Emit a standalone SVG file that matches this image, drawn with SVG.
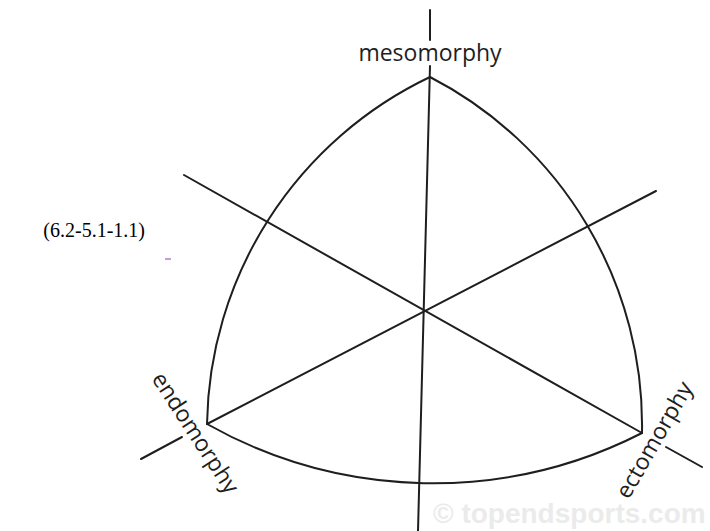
<svg xmlns="http://www.w3.org/2000/svg" width="710" height="531" viewBox="0 0 710 531">
<style>
.ln{stroke:#1e1e1e;stroke-width:2;fill:none;stroke-linecap:round}
.lbl{font-family:"Open Sans","DejaVu Sans",sans-serif;font-size:23px;fill:#1e1e1e;text-anchor:middle}
.note{font-family:"Liberation Serif","Times New Roman",serif;font-size:20px;fill:#000}
.wm{font-family:"Liberation Sans",Arial,sans-serif;font-weight:bold;font-size:28px;fill:#ebebeb}
</style>
<rect width="710" height="531" fill="#fff"/>
<g id="connectors">
<path class="ln" d="M430,77 A392,392 0 0 1 642,433 A460,460 0 0 1 207,424 A391,391 0 0 1 430,77 Z"/>
<line class="ln" x1="430" y1="10" x2="430" y2="40"/>
<line class="ln" x1="430" y1="66" x2="418" y2="531"/>
<line class="ln" x1="184" y1="175" x2="642" y2="433"/>
<line class="ln" x1="666" y1="447" x2="702" y2="467"/>
<line class="ln" x1="207" y1="424" x2="656" y2="191"/>
<line class="ln" x1="182" y1="437" x2="141" y2="459"/>
</g>
<g id="mesomorphy"><text class="lbl" x="430" y="61">mesomorphy</text></g>
<g id="endomorphy"><text class="lbl" transform="translate(189,437) rotate(57)">endomorphy</text></g>
<g id="ectomorphy"><text class="lbl" transform="translate(661,444) rotate(-60)">ectomorphy</text></g>
<g id="note"><text class="note" x="145" y="237" text-anchor="end">(6.2-5.1-1.1)</text>
<line x1="165" y1="259" x2="171" y2="259" stroke="#b27cc8" stroke-width="1.5"/></g>
<g id="watermark"><text class="wm" x="433" y="523">© topendsports.com</text></g>
</svg>
